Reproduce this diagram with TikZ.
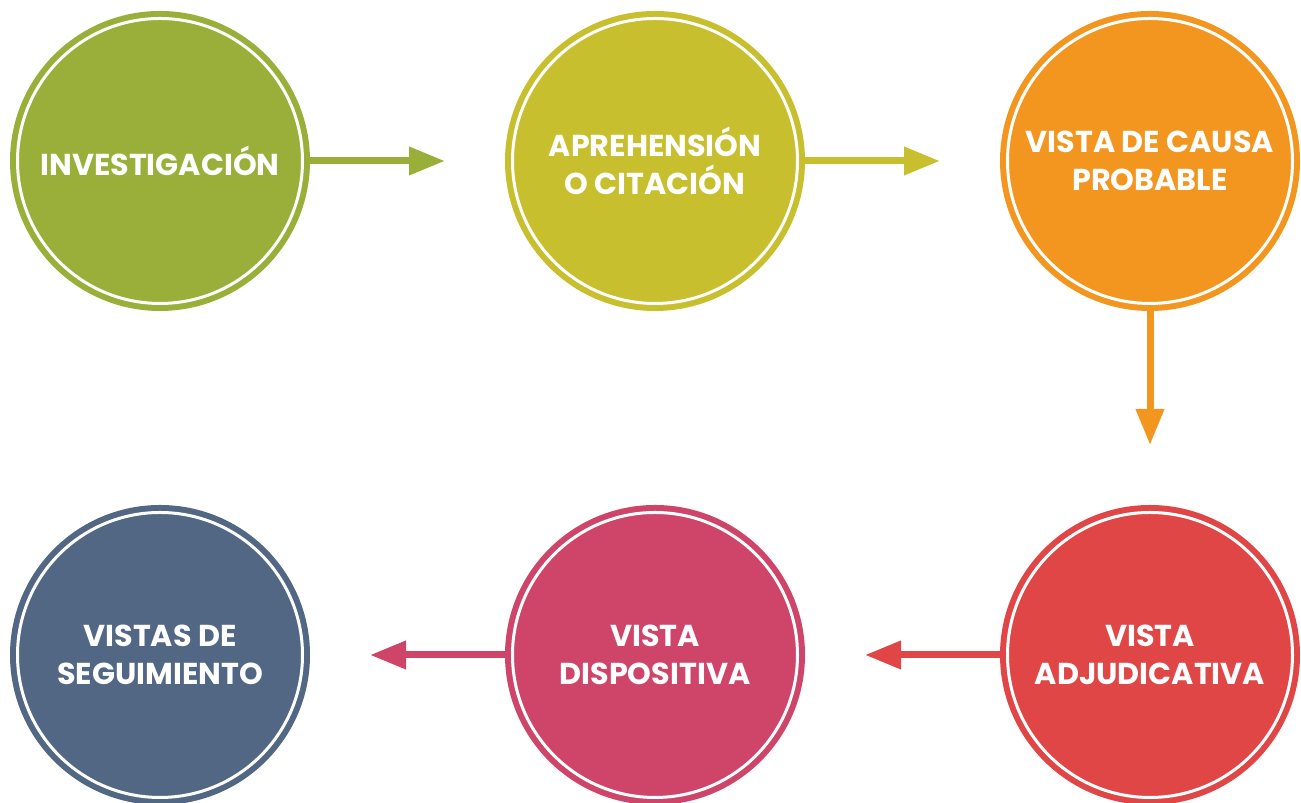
\documentclass[tikz,border=0pt]{standalone}
\usepackage{fontspec}
\setmainfont{Poppins}
\usetikzlibrary{arrows.meta}

\definecolor{stepgreen}{HTML}{9AAF3A}
\definecolor{stepolive}{HTML}{C8BF2E}
\definecolor{steporange}{HTML}{F39620}
\definecolor{stepred}{HTML}{E04646}
\definecolor{steppink}{HTML}{CF456A}
\definecolor{stepslate}{HTML}{516783}

\tikzset{
    stage/.style={circle, minimum size=2.85cm, inner sep=0pt, outer sep=0.75mm,
        fill=#1, draw=#1, line width=0.6mm, double=white, double distance=0.3mm,
        text=white, align=center, font=\bfseries\fontsize{8.6}{10.7}\selectfont},
    flow/.style={draw=#1, line width=0.7mm, shorten >=6mm,
        -{Triangle[length=3.6mm, width=2.7mm]}}
}

\begin{document}
\begin{tikzpicture}

    \useasboundingbox (0,0) rectangle (13.01,8.03);

    % Top row
    \node[stage=stepgreen]  (inv) at (1.60,6.42) {INVESTIGACIÓN};
    \node[stage=stepolive]  (apr) at (6.55,6.42) {APREHENSIÓN\\O CITACIÓN};
    \node[stage=steporange] (cau) at (11.50,6.42) {VISTA DE CAUSA\\PROBABLE};

    % Bottom row
    \node[stage=stepred]    (adj) at (11.50,1.48) {VISTA\\ADJUDICATIVA};
    \node[stage=steppink]   (dis) at (6.55,1.48) {VISTA\\DISPOSITIVA};
    \node[stage=stepslate]  (seg) at (1.60,1.48) {VISTAS DE\\SEGUIMIENTO};

    % Arrows between the stages
    \draw[flow=stepgreen]  (inv) -- (apr);
    \draw[flow=stepolive]  (apr) -- (cau);
    \draw[flow=steporange] (cau) -- (adj);
    \draw[flow=stepred]    (adj) -- (dis);
    \draw[flow=steppink]   (dis) -- (seg);

\end{tikzpicture}
\end{document}
